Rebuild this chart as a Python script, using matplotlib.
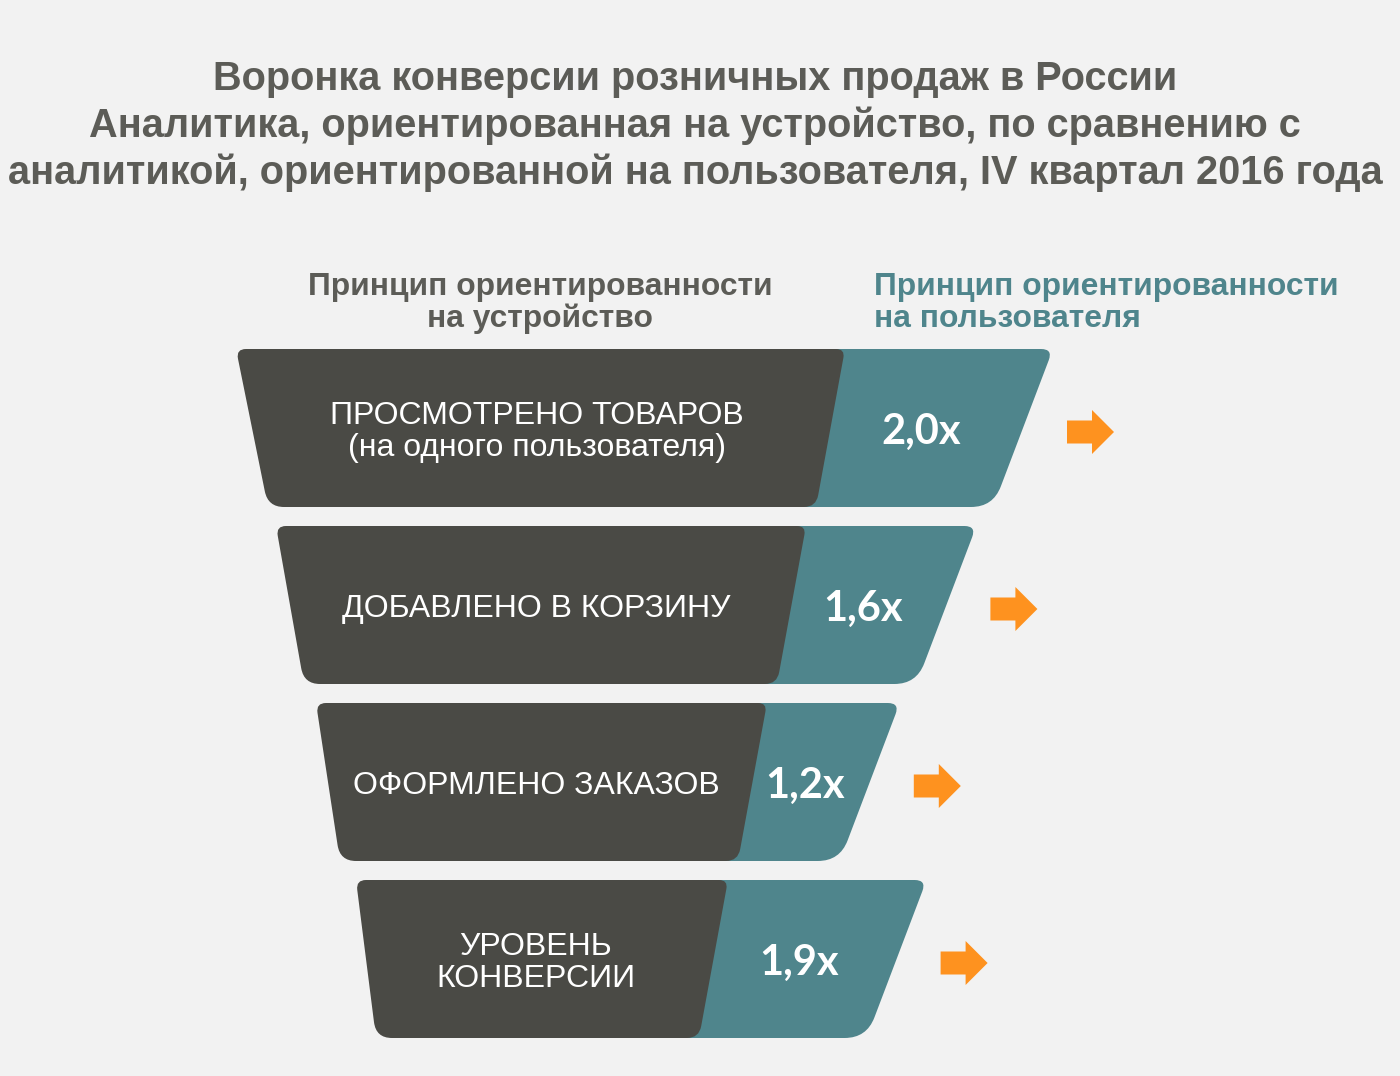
import numpy as np
import matplotlib.pyplot as plt
from matplotlib.path import Path
from matplotlib.patches import PathPatch, Polygon

# data
stages = ["ПРОСМОТРЕНО ТОВАРОВ\n(на одного пользователя)",
          "ДОБАВЛЕНО В КОРЗИНУ",
          "ОФОРМЛЕНО ЗАКАЗОВ",
          "УРОВЕНЬ\nКОНВЕРСИИ"]
multipliers = [2.0, 1.6, 1.2, 1.9]

title_lines = ["Воронка конверсии розничных продаж в России",
               "Аналитика, ориентированная на устройство, по сравнению с",
               "аналитикой, ориентированной на пользователя, IV квартал 2016 года"]
left_header = "Принцип ориентированности\nна устройство"
right_header = "Принцип ориентированности\nна пользователя"

# colours
bg = "#f2f2f2"
dark = "#4a4a45"
teal = "#4f858c"
orange = "#fe921f"
grey_text = "#5c5c57"

# layout (pixels of the 1400x1076 canvas)
row_top0, row_step, row_h = 349, 177, 158
left_top0, left_step = 236, 40
dark_right0, dark_step = 845, 39
teal_base, teal_scale = 20, 94


def rounded_path(pts, radii):
    n = len(pts)
    verts, codes = [], []
    for i in range(n):
        p = np.array(pts[i], float)
        prv = np.array(pts[i - 1], float)
        nxt = np.array(pts[(i + 1) % n], float)
        r = radii[i]
        d1 = (prv - p) / np.linalg.norm(prv - p)
        d2 = (nxt - p) / np.linalg.norm(nxt - p)
        a, b = p + d1 * r, p + d2 * r
        verts.append(a)
        codes.append(Path.MOVETO if i == 0 else Path.LINETO)
        verts += [p, b]
        codes += [Path.CURVE3, Path.CURVE3]
    verts.append(verts[0])
    codes.append(Path.CLOSEPOLY)
    return Path(verts, codes)


fig = plt.figure(figsize=(14, 10.76), dpi=100)
fig.patch.set_facecolor(bg)
ax = fig.add_axes([0, 0, 1, 1])
ax.set_xlim(0, 1400)
ax.set_ylim(1076, 0)
ax.axis('off')

for i, line in enumerate(title_lines):
    ax.text(695, 79 + 47 * i, line, ha='center', va='center', fontsize=28.6,
            fontweight='bold', color=grey_text, family='Liberation Sans')

ax.text(540, 303, left_header, ha='center', va='center', fontsize=22.9,
        fontweight='bold', color=grey_text, family='Liberation Sans', linespacing=1.08)
ax.text(874, 303, right_header, ha='left', va='center', fontsize=22.9,
        fontweight='bold', color=teal, family='Liberation Sans', linespacing=1.08)

for i, (stage, val) in enumerate(zip(stages, multipliers)):
    top = row_top0 + row_step * i
    bot = top + row_h
    mid = (top + bot) / 2
    lt = left_top0 + left_step * i
    ls = 32 - 4 * i
    dr = dark_right0 - dark_step * i
    ds = 29
    tr = dr + teal_base + teal_scale * val
    ts = 60

    teal_pts = [(dr - 30, top), (tr, top), (tr - ts, bot), (dr - ds - 30, bot)]
    ax.add_patch(PathPatch(rounded_path(teal_pts, [0, 12, 22, 0]),
                           facecolor=teal, edgecolor='none', zorder=1))
    dark_pts = [(lt, top), (dr, top), (dr - ds, bot), (lt + ls, bot)]
    ax.add_patch(PathPatch(rounded_path(dark_pts, [10, 9, 12, 16]),
                           facecolor=dark, edgecolor='none', zorder=2))

    dark_cx = (lt + ls / 2 + dr - ds / 2) / 2
    ax.text(dark_cx - 4, mid + 4, stage, ha='center', va='center', fontsize=23,
            color='white', family='Liberation Sans', linespacing=1.1, zorder=3)

    teal_cx = (dr - ds / 2 + tr - ts / 2) / 2
    label = f"{val:.1f}x".replace('.', ',')
    ax.text(teal_cx - 6, mid + 4, label, ha='center', va='center', fontsize=30,
            fontweight='bold', color='white', family='Lato', zorder=3)

    ax0 = tr + 14
    ay = mid + 4
    arrow = [(ax0, ay - 11.5), (ax0 + 25, ay - 11.5), (ax0 + 25, ay - 22),
             (ax0 + 47, ay), (ax0 + 25, ay + 22), (ax0 + 25, ay + 11.5),
             (ax0, ay + 11.5)]
    ax.add_patch(Polygon(arrow, closed=True, facecolor=orange, edgecolor='none', zorder=3))

fig.savefig("out.png", dpi=100, facecolor=bg)
